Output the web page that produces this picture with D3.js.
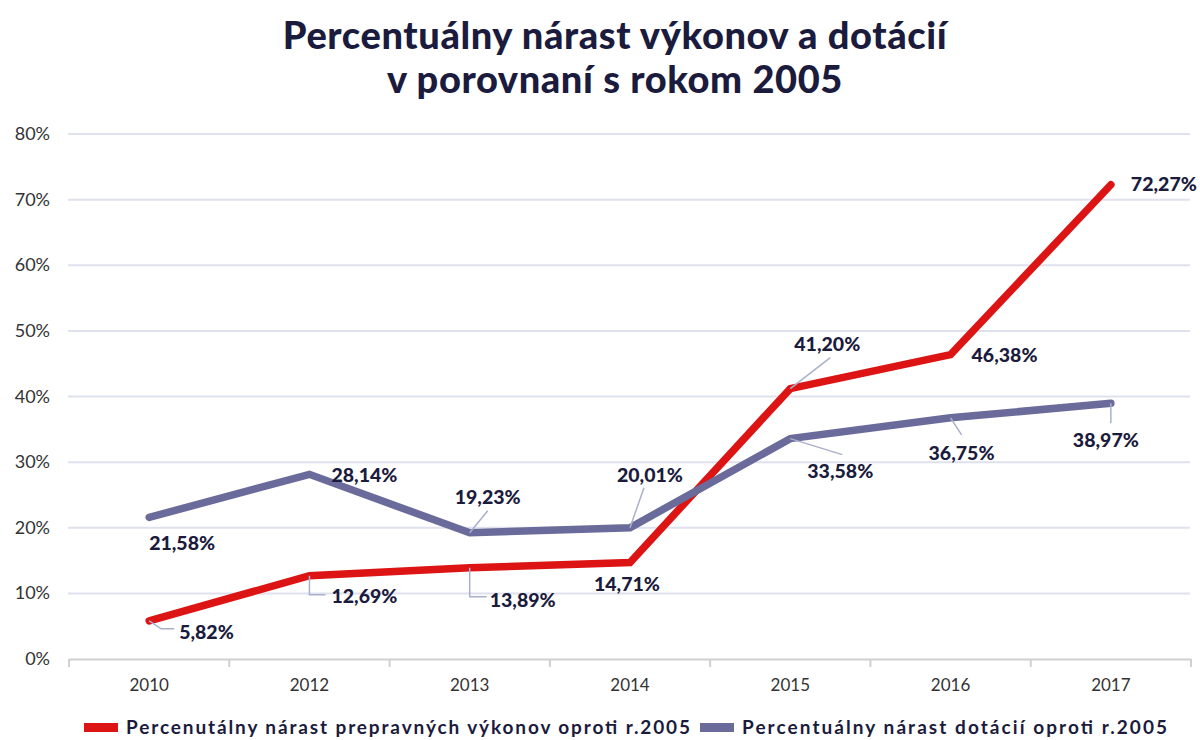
<!DOCTYPE html>
<html>
<head>
<meta charset="utf-8">
<script src="https://d3js.org/d3.v7.min.js"></script>
<style>
  body { margin: 0; background: #fff; }
  text { font-family: Lato, "Open Sans", sans-serif; }
</style>
</head>
<body>
<div id="chart"></div>
<script>
// data
var years = ["2010", "2012", "2013", "2014", "2015", "2016", "2017"];
var vykony = [5.82, 12.69, 13.89, 14.71, 41.20, 46.38, 72.27];
var dotacie = [21.58, 28.14, 19.23, 20.01, 33.58, 36.75, 38.97];
var yTicks = [0, 10, 20, 30, 40, 50, 60, 70, 80];
var titleLines = ["Percentuálny nárast výkonov a dotácií", "v porovnaní s rokom 2005"];
var legendNames = ["Percenutálny nárast prepravných výkonov oproti r.2005",
                   "Percentuálny nárast dotácií oproti r.2005"];

// label placement (offset from point) and leader lines, per point
var redLabelPos = [
  {dx: 30, dy: 18, lead: [[0,0],[12,8],[25,8]]},
  {dx: 22, dy: 27, lead: [[0,0],[0,19],[16,19]]},
  {dx: 20, dy: 39, lead: [[0,0],[0,29],[17,29]]},
  {dx: -36, dy: 29, lead: null},
  {dx: 4, dy: -38, lead: [[0,0],[40,-31]]},
  {dx: 21, dy: 7, lead: null},
  {dx: 20, dy: 6, lead: null}
];
var blueLabelPos = [
  {dx: 0, dy: 33, lead: null},
  {dx: 22, dy: 8, lead: null},
  {dx: -15, dy: -29, lead: [[0,0],[18,-22]]},
  {dx: -13, dy: -46, lead: [[0,0],[14,-40]]},
  {dx: 17, dy: 39, lead: [[0,0],[52,16]]},
  {dx: -22, dy: 42, lead: [[0,0],[11,17]]},
  {dx: -38, dy: 44, lead: [[0,0],[0,20]]}
];

var W = 1200, H = 740;
var red = "#dd1414", blue = "#6b6b9b", navy = "#1b1b3d";

var svg = d3.select("#chart").append("svg")
  .attr("width", W).attr("height", H);

var x = d3.scaleBand().domain(years).range([69, 1191]);
var y = d3.scaleLinear().domain([0, 80]).range([659, 134]);

// title
svg.selectAll(".title").data(titleLines).enter().append("text")
  .attr("x", 615)
  .attr("y", function(d, i) { return 49 + i * 44; })
  .attr("text-anchor", "middle")
  .style("font-size", "38px")
  .style("font-weight", 900)
  .style("letter-spacing", "0.6px")
  .style("fill", navy)
  .text(function(d) { return d; });

// gridlines
svg.append("g").selectAll("line").data(yTicks.filter(function(d) { return d > 0; })).enter()
  .append("line")
  .attr("x1", 68).attr("x2", 1190)
  .attr("y1", function(d) { return y(d); })
  .attr("y2", function(d) { return y(d); })
  .attr("stroke", "#dfe2ee").attr("stroke-width", 2);

// y labels
svg.append("g").selectAll("text").data(yTicks).enter().append("text")
  .attr("x", 50)
  .attr("y", function(d) { return y(d) + 6; })
  .attr("text-anchor", "end")
  .style("font-size", "18px")
  .style("fill", "#333")
  .text(function(d) { return d + "%"; });

// x axis
var xAxis = svg.append("g")
  .attr("transform", "translate(0," + y(0) + ")")
  .call(d3.axisBottom(x).tickSize(0).tickPadding(20));
xAxis.select(".domain").attr("stroke", "#d0d0d0").attr("stroke-width", 2);
xAxis.selectAll("text").style("font-size", "17px").style("fill", "#333")
  .style("font-family", "Lato, sans-serif");
var bounds = years.map(function(d) { return x(d); }).concat([x.range()[1]]);
xAxis.selectAll(".sep").data(bounds).enter().append("line")
  .attr("x1", function(d) { return d; }).attr("x2", function(d) { return d; })
  .attr("y1", 0).attr("y2", 8)
  .attr("stroke", "#d0d0d0").attr("stroke-width", 2);

var cx = function(i) { return x(years[i]) + x.bandwidth() / 2; };
var line = d3.line()
  .x(function(d, i) { return cx(i); })
  .y(function(d) { return y(d); });

svg.append("path").datum(vykony)
  .attr("d", line).attr("fill", "none")
  .attr("stroke", red).attr("stroke-width", 7.5)
  .attr("stroke-linecap", "round").attr("stroke-linejoin", "miter");
svg.append("path").datum(dotacie)
  .attr("d", line).attr("fill", "none")
  .attr("stroke", blue).attr("stroke-width", 7.5)
  .attr("stroke-linecap", "round").attr("stroke-linejoin", "miter");

function fmt(v) { return v.toFixed(2).replace(".", ",") + "%"; }

function labels(values, pos) {
  var g = svg.append("g");
  values.forEach(function(v, i) {
    var px = cx(i), py = y(v), p = pos[i];
    if (p.lead) {
      g.append("polyline")
        .attr("points", p.lead.map(function(q) { return (px + q[0]) + "," + (py + q[1]); }).join(" "))
        .attr("fill", "none").attr("stroke", "#a9b0cc").attr("stroke-width", 1.5);
    }
    g.append("text")
      .attr("x", px + p.dx).attr("y", py + p.dy)
      .style("font-size", "19.5px").style("font-weight", 900)
      .style("fill", navy)
      .text(fmt(v));
  });
}
labels(vykony, redLabelPos);
labels(dotacie, blueLabelPos);

// legend
var leg = [
  {name: legendNames[0], color: red, x: 84, len: 564},
  {name: legendNames[1], color: blue, x: 700, len: 425}
];
var lg = svg.append("g").selectAll("g").data(leg).enter().append("g")
  .attr("transform", function(d) { return "translate(" + d.x + ",727)"; });
lg.append("rect").attr("x", 0).attr("y", -4).attr("width", 34).attr("height", 9)
  .attr("fill", function(d) { return d.color; });
lg.append("text").attr("x", 42).attr("y", 7)
  .attr("textLength", function(d) { return d.len; })
  .attr("lengthAdjust", "spacing")
  .style("font-size", "19px").style("font-weight", 700).style("fill", navy)
  .text(function(d) { return d.name; });
</script>
</body>
</html>
